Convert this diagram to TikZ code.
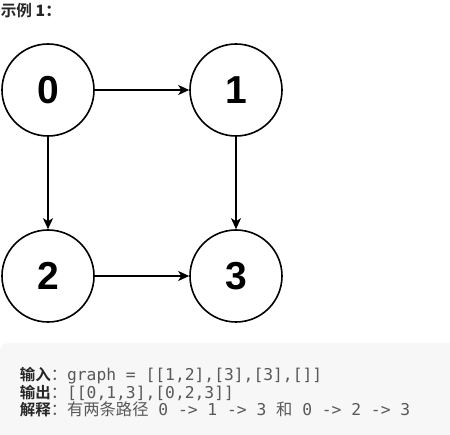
\documentclass[tikz,border=0pt]{standalone}
\usepackage{fontspec}
\usepackage{tikz}
\usetikzlibrary{arrows.meta}
\setmainfont{Liberation Sans}
\newfontfamily\cjk{Noto Sans CJK SC}
\newfontfamily\cjkbold{Noto Sans CJK SC Bold}[Scale=0.95]
\newfontfamily\codefont{DejaVu Sans Mono}
\definecolor{boxgray}{HTML}{F7F7F7}
\definecolor{labelgray}{HTML}{262626}
\definecolor{codegray}{HTML}{595959}

\begin{document}
\begin{tikzpicture}[x=1pt, y=-1pt, ->, >={Stealth[length=11pt,width=10pt,inset=3pt]}, line width=1.6pt]
    \tikzstyle{vertex}=[circle, draw=black, line width=1.6pt, minimum size=92pt, inner sep=0pt, font=\fontsize{39}{39}\selectfont\bfseries];
    \tikzstyle{label line}=[anchor=base west, inner sep=0pt, font=\fontsize{16.3}{16.3}\selectfont];

    \useasboundingbox (0,0) rectangle (450,435);

    % Title
    \node[anchor=north west, inner sep=0pt, text=labelgray] (title) at (0,2)
        {\fontsize{16.5}{16.5}\selectfont\cjkbold 示例\ \bfseries 1\cjkbold ：};

    % Draw the graph vertices
    \foreach \name / \x / \y in {0/48/90, 1/236/90, 2/48/276, 3/236/276}
        \node[vertex] (V-\name) at (\x,\y) {\name};

    % Connect the vertices along the edges of the graph
    \foreach \source / \dest in {0/1, 0/2, 1/3, 2/3}
        \path[draw=black] (V-\source) edge (V-\dest);

    % Grey box with the input and output
    \fill[boxgray, rounded corners=8pt] (0,343) rectangle (460,445);
    \node[label line] (in) at (19,381)
        {\cjkbold\color{labelgray}输入\cjk\color{codegray}：\codefont graph = [[1,2],[3],[3],[]]};
    \node[label line] (out) at (19,398.5)
        {\cjkbold\color{labelgray}输出\cjk\color{codegray}：\codefont [[0,1,3],[0,2,3]]};
    \node[label line] (why) at (19,416)
        {\cjkbold\color{labelgray}解释\cjk\color{codegray}：有两条路径\codefont{} 0 -> 1 -> 3 \cjk 和\codefont{} 0 -> 2 -> 3};
\end{tikzpicture}
\end{document}
